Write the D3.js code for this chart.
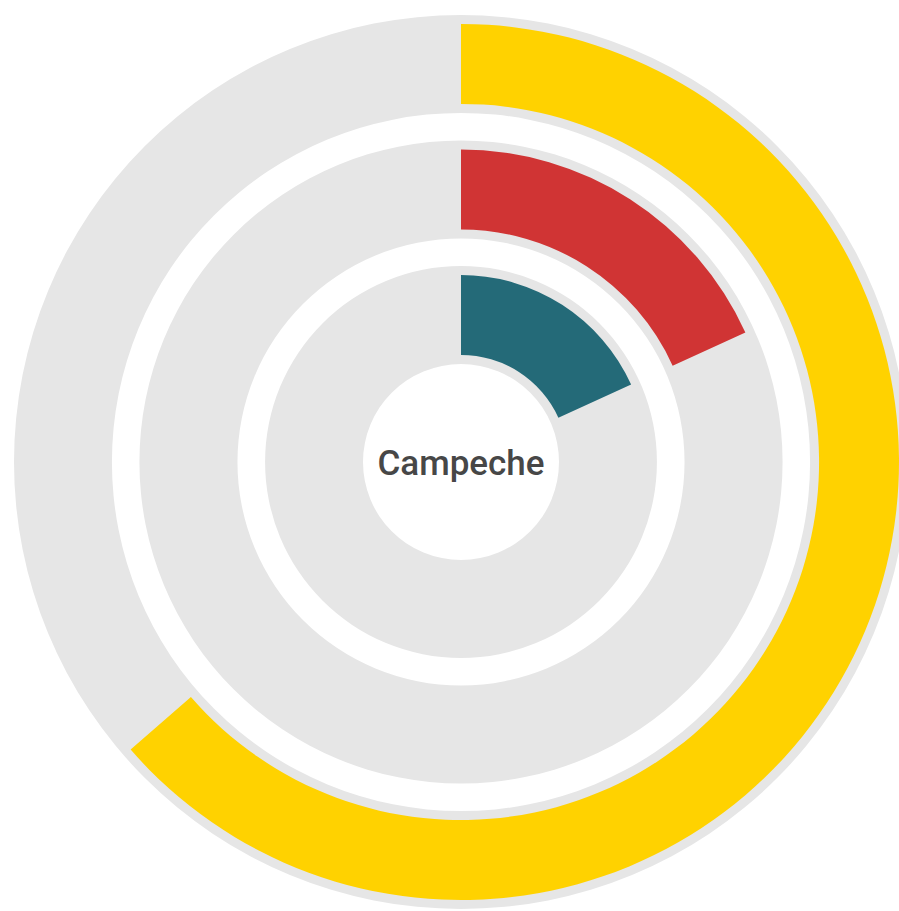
<!DOCTYPE html>
<html>
<head>
<meta charset="utf-8">
<script src="https://cdn.jsdelivr.net/npm/d3@7"></script>
<style>
  html, body { margin: 0; padding: 0; background: #fff; }
  svg { display: block; }
</style>
</head>
<body>
<svg id="chart" width="899" height="911"></svg>
<script>
// Rings from the centre outwards, with their share (in percent)
const categories = ["Serie A", "Serie B", "Serie C"];
const values = [18.2, 18.2, 63.6];
const colors = ["#246A78", "#D03434", "#FFD200"];
const title = "Campeche";

const width = 899, height = 911;
const cx = 461, cy = 462;
const innerRadius = 98, outerRadius = 447;
const barInset = 9;

const svg = d3.select("#chart");
const g = svg.append("g").attr("transform", `translate(${cx},${cy})`);

// radial position of each ring
const r = d3.scaleBand()
  .domain(categories)
  .range([innerRadius, outerRadius])
  .paddingInner(0.22)
  .paddingOuter(0);

// share -> angle, clockwise from 12 o'clock
const angle = d3.scaleLinear().domain([0, 100]).range([0, 2 * Math.PI]);

const data = categories.map((c, i) => ({ cat: c, value: values[i], color: colors[i] }));

// full grey track behind every ring
const track = d3.arc()
  .innerRadius(d => r(d.cat))
  .outerRadius(d => r(d.cat) + r.bandwidth())
  .startAngle(0)
  .endAngle(2 * Math.PI);

g.selectAll("path.track")
  .data(data)
  .join("path")
  .attr("class", "track")
  .attr("d", track)
  .attr("fill", "#E6E6E6");

// value bars
const bar = d3.arc()
  .innerRadius(d => r(d.cat) + barInset)
  .outerRadius(d => r(d.cat) + r.bandwidth() - barInset)
  .startAngle(0)
  .endAngle(d => angle(d.value));

g.selectAll("path.bar")
  .data(data)
  .join("path")
  .attr("class", "bar")
  .attr("d", bar)
  .attr("fill", d => d.color);

// centre label
g.append("text")
  .attr("x", 0)
  .attr("y", 0)
  .attr("dy", "0.36em")
  .attr("text-anchor", "middle")
  .attr("font-family", "Roboto, 'Noto Sans', sans-serif")
  .attr("font-weight", 500)
  .attr("font-size", 35)
  .attr("fill", "#474747")
  .text(title);
</script>
</body>
</html>
